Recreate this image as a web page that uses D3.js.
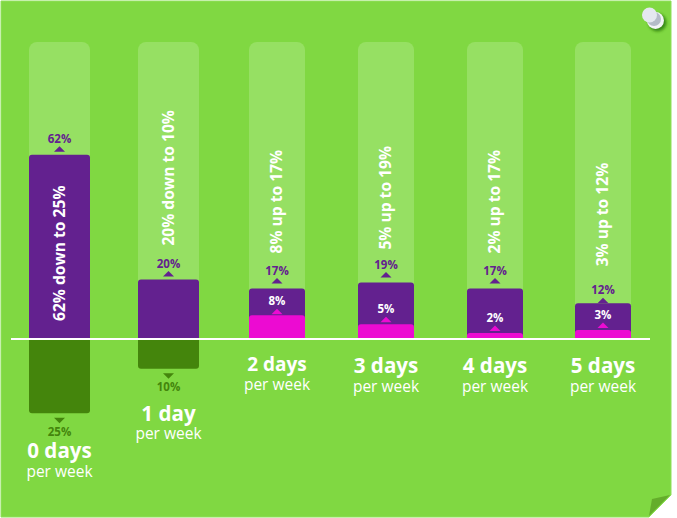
<!DOCTYPE html>
<html><head><meta charset="utf-8">
<script src="https://cdn.jsdelivr.net/npm/d3@7/dist/d3.min.js"></script>
<style>html,body{margin:0;padding:0;background:#fff}svg{display:block}text{font-family:"Open Sans",sans-serif}</style>
</head><body><svg id="c" width="677" height="518"></svg>
<script>
const categories=["0 days","1 day","2 days","3 days","4 days","5 days"];
const subLabel="per week";
const before=[62,20,17,19,17,12];
const after=[25,10,8,5,2,3];
const changeLabels=["62% down to 25%","20% down to 10%","8% up to 17%","5% up to 19%","2% up to 17%","3% up to 12%"];
const direction=["down","down","up","up","up","up"];
const maxValue=100;

// layout, separate from the data
const centers=[59.5,168.5,277,386,495,603];
const widths=[61,61,56,56,56,56];
const topTipGap=[9,9,11,11,11,6];
const innerTipGap=[0,0,7,8,8,8];
const rotGap=[0,34,35,33,35,37];
const catBase=[458,421,371,372.5,372.5,372.5];
const subBase=[477,439,390,392,392,392];
const catSize=[20.6,20.6,19,20.6,20.6,20.6];

const svg=d3.select("#c");
const y=d3.scaleLinear().domain([0,maxValue]).range([339,42]);
const h=v=>y(0)-y(v);
const col={panel:"#80d842",track:"#96e063",purple:"#63218f",dark:"#44850c",pink:"#ec0bd2",edge:"#8fe05a",fold:"#64ad2b"};

const defs=svg.append("defs");
const f=defs.append("filter").attr("id","sh").attr("x","-50%").attr("y","-50%").attr("width","200%").attr("height","200%");
f.append("feGaussianBlur").attr("stdDeviation",1.8);
svg.append("path").attr("d",d3.line()([[1,1],[671,1],[671,495],[649,517],[1,517]])+"Z").attr("fill",col.panel).attr("stroke",col.edge).attr("stroke-width",1);
svg.append("path").attr("d",d3.line()([[652,499],[670,495],[649,516]])+"Z").attr("fill",col.fold);

// pin
svg.append("circle").attr("cx",657.5).attr("cy",22.5).attr("r",9).attr("fill","#2a7a10").attr("opacity",.85).attr("filter","url(#sh)");
svg.append("circle").attr("cx",655.5).attr("cy",20.5).attr("r",8.5).attr("fill","#f2f4f6");
svg.append("circle").attr("cx",654).attr("cy",19).attr("r",7).attr("fill","#b4bcc8");
svg.append("circle").attr("cx",649.5).attr("cy",15).attr("r",7.5).attr("fill","#e4e8ef");

const idx=d3.range(categories.length);
const rr=(x,top,w,bh,r,fill)=>svg.append("rect").attr("x",x).attr("y",top).attr("width",w).attr("height",bh).attr("rx",r).attr("fill",fill);

idx.forEach(i=>{ rr(centers[i]-widths[i]/2,y(maxValue),widths[i],h(maxValue),8,col.track); });
idx.forEach(i=>{
  const cx=centers[i],w=widths[i],l=cx-w/2;
  if(direction[i]==="down"){
    rr(l,y(0),w,h(after[i]),3,col.dark);
    svg.append("rect").attr("x",l).attr("y",y(0)).attr("width",w).attr("height",4).attr("fill",col.dark);
    rr(l,y(before[i]),w,h(before[i]),3,col.purple);
    svg.append("rect").attr("x",l).attr("y",y(0)-4).attr("width",w).attr("height",4).attr("fill",col.purple);
  }else{
    rr(l,y(before[i]),w,h(before[i]),3,col.purple);
    svg.append("rect").attr("x",l).attr("y",y(0)-4).attr("width",w).attr("height",4).attr("fill",col.purple);
    rr(l,y(after[i]),w,h(after[i]),3,col.pink);
    svg.append("rect").attr("x",l).attr("y",y(0)-3).attr("width",w).attr("height",3).attr("fill",col.pink);
  }
});

const tri=(cx,tipY,dir,fill)=>svg.append("path")
  .attr("d",d3.line()([[cx-5.5,tipY+dir*5.5],[cx,tipY],[cx+5.5,tipY+dir*5.5]])+"Z").attr("fill",fill);
const txt=(x,yy,s,size,weight,fill)=>svg.append("text").attr("x",x).attr("y",yy).attr("text-anchor","middle")
  .attr("font-size",size).attr("font-weight",weight).attr("fill",fill).text(s);

idx.forEach(i=>{
  const cx=centers[i],top=y(before[i]);
  tri(cx,top-topTipGap[i]+.5,1,col.purple);
  txt(cx,top-topTipGap[i]-3,before[i]+"%",11.5,700,col.purple);
  if(direction[i]==="down"){
    const bot=y(-after[i]);
    tri(cx,bot+10,-1,col.dark);
    txt(cx,bot+22.5,after[i]+"%",11.5,700,col.dark);
  }else{
    const t=y(after[i]);
    tri(cx,t-innerTipGap[i]+.5,1,col.pink);
    txt(cx,t-innerTipGap[i]-3.5,after[i]+"%",11.5,700,"#fff");
  }
  txt(cx,catBase[i],categories[i],catSize[i],700,"#fff");
  txt(cx,subBase[i],subLabel,15.5,400,"#fff");
  const anchorY=i===0?y(0)-18:top-rotGap[i];
  svg.append("text").attr("transform",`translate(${cx+5},${anchorY}) rotate(-90)`)
    .attr("text-anchor","start").attr("font-size",15.6).attr("font-weight",700).attr("fill","#fff").text(changeLabels[i]);
});

svg.append("line").attr("x1",11).attr("x2",650).attr("y1",y(0)).attr("y2",y(0)).attr("stroke","#fff").attr("stroke-width",2);
</script></body></html>
